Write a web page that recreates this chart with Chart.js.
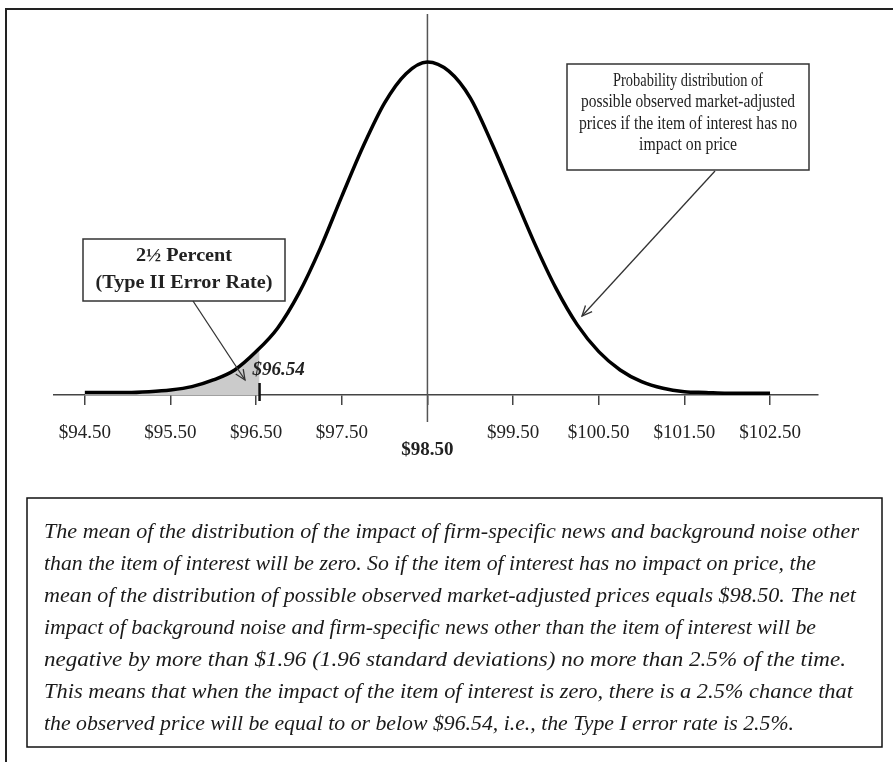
<!DOCTYPE html>
<html>
<head>
<meta charset="utf-8">
<script src="https://cdn.jsdelivr.net/npm/chart.js"></script>
<style>
  html, body { margin: 0; padding: 0; background: #ffffff; }
  #wrap { width: 893px; height: 762px; position: relative; }
</style>
</head>
<body>
<div id="wrap"><canvas id="c" width="893" height="762"></canvas></div>
<script>
// ---------- DATA ----------
const priceValues = [94.50, 94.75, 95.00, 95.25, 95.50, 95.75, 96.00, 96.25, 96.50, 96.75, 97.00, 97.25, 97.50, 97.75, 98.00, 98.25, 98.50, 98.75, 99.00, 99.25, 99.50, 99.75, 100.00, 100.25, 100.50, 100.75, 101.00, 101.25, 101.50, 101.75, 102.00, 102.25, 102.50];
const densityValues = [0.003, 0.003, 0.003, 0.004, 0.006, 0.010, 0.018, 0.030, 0.052, 0.080, 0.122, 0.176, 0.238, 0.298, 0.350, 0.385, 0.399, 0.388, 0.356, 0.302, 0.242, 0.182, 0.128, 0.084, 0.052, 0.030, 0.016, 0.008, 0.004, 0.003, 0.002, 0.002, 0.002];
const shadedPrices = [94.50, 94.75, 95.00, 95.25, 95.50, 95.75, 96.00, 96.25, 96.50, 96.54];
const shadedDensities = [0.003, 0.003, 0.003, 0.004, 0.006, 0.010, 0.018, 0.030, 0.052, 0.056];
const tickValues = [94.50, 95.50, 96.50, 97.50, 98.50, 99.50, 100.50, 101.50, 102.50];
const tickLabels = ['$94.50', '$95.50', '$96.50', '$97.50', '$98.50', '$99.50', '$100.50', '$101.50', '$102.50'];
const meanPrice = 98.50;
const criticalPrice = 96.54;
const criticalLabel = '$96.54';
const rightNoteLines = ['Probability distribution of', 'possible observed market-adjusted', 'prices if the item of interest has no', 'impact on price'];
const leftNoteLines = ['2\u00BD Percent', '(Type II Error Rate)'];
const captionLines = [
  'The mean of the distribution of the impact of firm-specific news and background noise other',
  'than the item of interest will be zero. So if the item of interest has no impact on price, the',
  'mean of the distribution of possible observed market-adjusted prices equals $98.50. The net',
  'impact of background noise and firm-specific news other than the item of interest will be',
  'negative by more than $1.96 (1.96 standard deviations) no more than 2.5% of the time.',
  'This means that when the impact of the item of interest is zero, there is a 2.5% chance that',
  'the observed price will be equal to or below $96.54, i.e., the Type I error rate is 2.5%.'
];

// ---------- LAYOUT / STYLE ----------
const SERIF = '"Liberation Serif", "Times New Roman", serif';
const captionWidths = [815, 772, 812, 772, 802, 809, 750];

function fitText(ctx, text, x, y, width) {
  const w = ctx.measureText(text).width;
  ctx.save();
  ctx.translate(x, y);
  ctx.scale(width / w, 1);
  ctx.fillText(text, 0, 0);
  ctx.restore();
}
function centerText(ctx, text, cx, y, width) {
  fitText(ctx, text, cx - width / 2, y, width);
}
function arrow(ctx, x1, y1, x2, y2) {
  ctx.save();
  ctx.strokeStyle = '#333';
  ctx.lineWidth = 1.3;
  ctx.beginPath();
  ctx.moveTo(x1, y1);
  ctx.lineTo(x2, y2);
  ctx.stroke();
  const a = Math.atan2(y2 - y1, x2 - x1);
  const L = 11, s = 0.42;
  ctx.beginPath();
  ctx.moveTo(x2 - L * Math.cos(a - s), y2 - L * Math.sin(a - s));
  ctx.lineTo(x2, y2);
  ctx.lineTo(x2 - L * Math.cos(a + s), y2 - L * Math.sin(a + s));
  ctx.stroke();
  ctx.restore();
}

const decorPlugin = {
  id: 'decor',
  beforeDraw(chart) {
    const ctx = chart.ctx;
    ctx.save();
    ctx.fillStyle = '#ffffff';
    ctx.fillRect(0, 0, chart.width, chart.height);
    ctx.strokeStyle = '#222';
    ctx.lineWidth = 2;
    ctx.beginPath();
    ctx.moveTo(6, 762);
    ctx.lineTo(6, 9);
    ctx.lineTo(893, 9);
    ctx.stroke();
    ctx.restore();
  },
  beforeDatasetsDraw(chart) {
    const ctx = chart.ctx;
    const xs = chart.scales.x;
    const xm = xs.getPixelForValue(meanPrice);
    ctx.save();
    ctx.strokeStyle = '#555';
    ctx.lineWidth = 1.5;
    ctx.beginPath();
    ctx.moveTo(xm, 14);
    ctx.lineTo(xm, 422);
    ctx.stroke();
    ctx.restore();
  },
  afterDraw(chart) {
    const ctx = chart.ctx;
    const xs = chart.scales.x;
    const ys = chart.scales.y;
    const base = ys.getPixelForValue(0);
    ctx.save();
    const xc = xs.getPixelForValue(criticalPrice);
    ctx.strokeStyle = '#111';
    ctx.lineWidth = 2.5;
    ctx.beginPath();
    ctx.moveTo(xc, base - 12);
    ctx.lineTo(xc, base + 6);
    ctx.stroke();
    ctx.fillStyle = '#222';
    ctx.font = 'italic bold 19px ' + SERIF;
    ctx.textBaseline = 'middle';
    ctx.textAlign = 'left';
    ctx.fillText(criticalLabel, xc - 7, 370);

    // right note box
    ctx.fillStyle = '#ffffff';
    ctx.fillRect(567, 64, 242, 106);
    ctx.strokeStyle = '#333';
    ctx.lineWidth = 1.5;
    ctx.strokeRect(567, 64, 242, 106);
    ctx.fillStyle = '#222';
    ctx.font = '19px ' + SERIF;
    const rw = [150, 214, 218, 98];
    const ry = [81, 102.5, 124, 145.5];
    rightNoteLines.forEach((t, i) => centerText(ctx, t, 688, ry[i], rw[i]));
    arrow(ctx, 715, 171, 582, 316);

    // left note box
    ctx.fillStyle = '#ffffff';
    ctx.fillRect(83, 239, 202, 62);
    ctx.strokeRect(83, 239, 202, 62);
    ctx.fillStyle = '#222';
    ctx.font = 'bold 18px ' + SERIF;
    const w2 = ctx.measureText(leftNoteLines[1]).width;
    const k = 177 / w2;
    const w1 = ctx.measureText(leftNoteLines[0]).width * k;
    centerText(ctx, leftNoteLines[0], 184, 256, w1);
    centerText(ctx, leftNoteLines[1], 184, 283, 177);
    arrow(ctx, 193, 301, 245, 380);

    // caption box
    ctx.strokeStyle = '#111';
    ctx.lineWidth = 1.5;
    ctx.strokeRect(27, 498, 855, 249);
    ctx.fillStyle = '#1a1a1a';
    ctx.font = 'italic 22px ' + SERIF;
    ctx.textAlign = 'left';
    captionLines.forEach((t, i) => fitText(ctx, t, 44, 532 + i * 32, captionWidths[i]));
    ctx.restore();
  }
};

new Chart(document.getElementById('c'), {
  type: 'line',
  data: {
    datasets: [
      {
        data: priceValues.map((p, i) => ({ x: p, y: densityValues[i] })),
        borderColor: '#000000',
        borderWidth: 3.5,
        pointRadius: 0,
        fill: false,
        cubicInterpolationMode: 'monotone',
        order: 0
      },
      {
        data: shadedPrices.map((p, i) => ({ x: p, y: shadedDensities[i] })),
        borderWidth: 0,
        borderColor: 'rgba(0,0,0,0)',
        backgroundColor: '#cbcbcb',
        pointRadius: 0,
        fill: 'origin',
        cubicInterpolationMode: 'monotone',
        order: 1
      }
    ]
  },
  options: {
    responsive: false,
    animation: false,
    layout: { padding: { left: 54, right: 75, top: 14, bottom: 0 } },
    plugins: { legend: { display: false }, tooltip: { enabled: false } },
    scales: {
      x: {
        type: 'linear',
        min: 94.14,
        max: 103.06,
        afterBuildTicks: (scale) => { scale.ticks = tickValues.map(v => ({ value: v })); },
        afterFit: (scale) => { scale.height = 367; },
        grid: { drawOnChartArea: false, drawTicks: true, tickLength: 10, color: '#444', lineWidth: 1.5 },
        border: { display: true, color: '#444', width: 1.5 },
        ticks: {
          padding: 17,
          color: '#222',
          maxRotation: 0,
          autoSkip: false,
          callback: (value, index) => index === 4 ? ['', tickLabels[index]] : tickLabels[index],
          font: (ctx) => ctx.index === 4
            ? { family: SERIF, size: 19, weight: 'bold', lineHeight: 1.0 }
            : { family: SERIF, size: 19, lineHeight: 1.2 }
        }
      },
      y: {
        type: 'linear',
        display: false,
        min: 0,
        max: 0.4565
      }
    }
  },
  plugins: [decorPlugin]
});
</script>
</body>
</html>
